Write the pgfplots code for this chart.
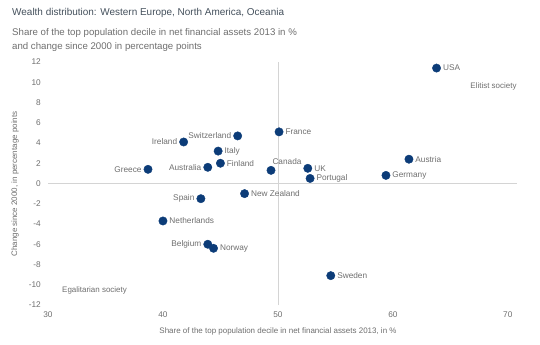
\documentclass[border=0pt]{standalone}
\usepackage{fontspec}
\setmainfont{Liberation Sans}
\usepackage{pgfplots}
\pgfplotsset{compat=1.18}
\definecolor{dot}{HTML}{0C3C78}
\definecolor{txt}{HTML}{6E6E6E}
\definecolor{ttl}{HTML}{44505C}
\definecolor{axl}{HTML}{D4D4D4}
\begin{document}
\begin{tikzpicture}
\useasboundingbox (-48bp,-40bp) rectangle (492bp,305bp);
\begin{axis}[
  at={(0,0)}, anchor=south west,
  scale only axis, width=469bp, height=243bp,
  xmin=30, xmax=70.8, ymin=-12, ymax=12,
  xtick={30,40,...,70}, ytick={-12,-10,...,12},
  axis line style={draw=none}, major tick style={draw=none},
  /pgf/number format/assume math mode=true,
  tick label style={inner sep=0pt, font=\fontsize{8.3}{10}\selectfont, text=txt},
  xticklabel style={yshift=-7bp},
  yticklabel style={xshift=-7bp},
  extra x ticks={50}, extra y ticks={0},
  extra x tick style={grid=major, xticklabel={}},
  extra y tick style={grid=major, yticklabel={}},
  major grid style={draw=axl, line width=0.7bp},
  clip=false,
]
\addplot[only marks, mark=*, mark size=4.2bp, mark options={draw=dot, fill=dot},
  nodes near coords, point meta=explicit symbolic,
  visualization depends on={value \thisrow{anchor}\as\myanchor},
  every node near coord/.append style={anchor=\myanchor, font=\fontsize{8.3}{10}\selectfont, text=txt, inner sep=0.5bp, outer sep=6bp}]
  table[col sep=comma, x=x, y=y, meta=label] {
x,y,label,anchor
63.8,11.4,USA,west
50.1,5.1,France,west
52.6,1.5,UK,west
52.8,0.5,Portugal,west
59.4,0.8,Germany,west
61.4,2.4,Austria,west
54.6,-9.1,Sweden,west
46.5,4.7,Switzerland,east
41.8,4.1,Ireland,east
44.8,3.2,Italy,west
45.0,2.0,Finland,west
43.9,1.6,Australia,east
38.7,1.4,Greece,east
47.1,-1.0,New Zealand,west
43.3,-1.5,Spain,east
40.0,-3.7,Netherlands,west
43.9,-6.0,Belgium,east
44.4,-6.4,Norway,west
};
\addplot[only marks, mark=*, mark size=4.2bp, mark options={draw=dot, fill=dot},
  nodes near coords, point meta=explicit symbolic,
  every node near coord/.append style={anchor=south west, xshift=-5bp, yshift=-1bp, font=\fontsize{8.3}{10}\selectfont, text=txt, inner sep=0.5bp, outer sep=6bp}]
  table[col sep=comma, x=x, y=y, meta=label] {
x,y,label
49.4,1.3,Canada
};
\end{axis}
\node[anchor=base west, inner sep=0, text=ttl, font=\fontsize{10}{12}\selectfont] at (-36bp,289.3bp) {Wealth distribution: Western Europe, North America, Oceania};
\node[anchor=base west, inner sep=0, text=txt, font=\fontsize{9.7}{11}\selectfont] at (-36bp,269bp) {Share of the top population decile in net financial assets 2013 in \%};
\node[anchor=base west, inner sep=0, text=txt, font=\fontsize{9.7}{11}\selectfont] at (-36bp,255bp) {and change since 2000 in percentage points};
\node[anchor=east, inner sep=0, text=txt, font=\fontsize{8}{10}\selectfont] at (468.7bp,218.3bp) {Elitist society};
\node[anchor=west, inner sep=0, text=txt, font=\fontsize{8}{10}\selectfont] at (14bp,15bp) {Egalitarian society};
\node[anchor=center, inner sep=0, text=txt, font=\fontsize{8}{10}\selectfont] at (230bp,-26bp) {Share of the top population decile in net financial assets 2013, in \%};
\node[anchor=center, inner sep=0, text=txt, rotate=90, font=\fontsize{8}{10}\selectfont] at (-33bp,121bp) {Change since 2000, in percentage points};
\end{tikzpicture}
\end{document}
